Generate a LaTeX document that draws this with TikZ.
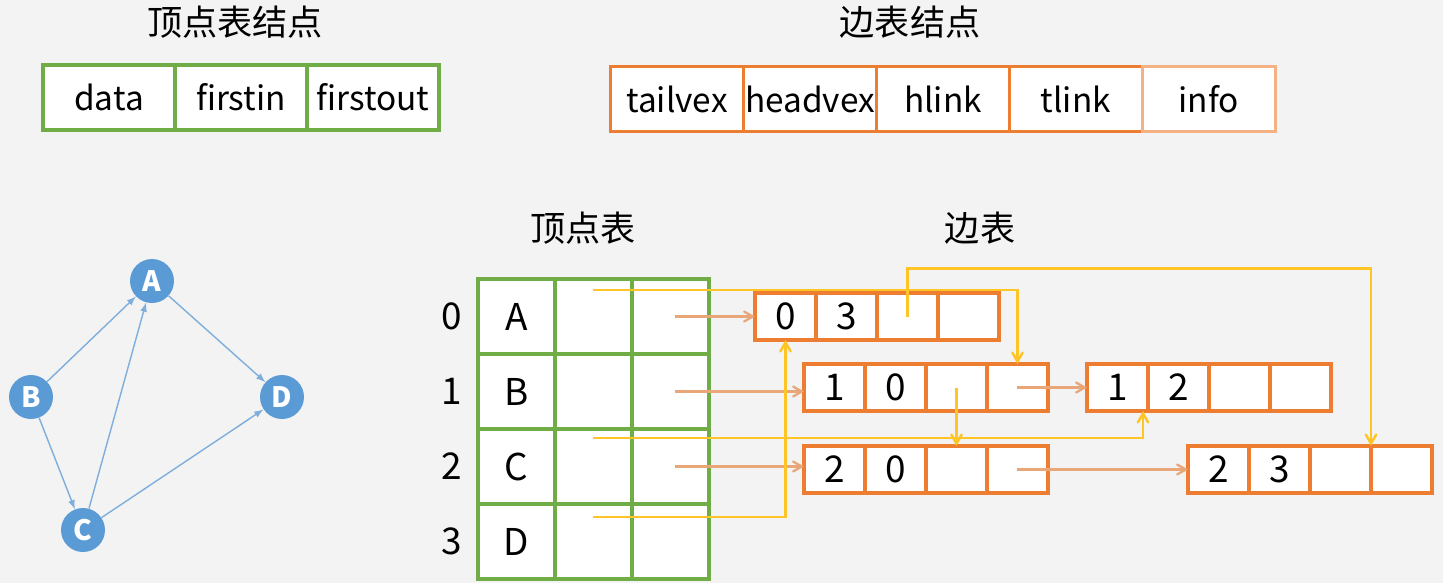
\documentclass[tikz,border=0pt]{standalone}
\usepackage{fontspec}
\setmainfont{Noto Sans CJK SC}
\usepackage{tikz}
\usetikzlibrary{arrows,positioning,calc}

\definecolor{vgreen}{HTML}{70AD47}
\definecolor{eorange}{HTML}{ED7D31}
\definecolor{einfo}{HTML}{F4B183}
\definecolor{olinkc}{HTML}{E9A679}
\definecolor{ylinkc}{HTML}{FFC425}
\definecolor{gblue}{HTML}{5B9BD5}
\definecolor{gedge}{HTML}{7EAEDB}
\definecolor{bg}{HTML}{F3F3F3}

\tikzset{
  field/.style={draw, fill=white, line width=1.8pt, inner sep=0pt, outer sep=0pt,
    minimum height=1.3cm, font=\fontsize{19}{21}\selectfont},
  vfield/.style={field, draw=vgreen, minimum width=2.64cm},
  efield/.style={field, draw=eorange, minimum width=2.66cm},
  vcell/.style={draw=vgreen, fill=white, line width=1.8pt, inner sep=0pt, outer sep=0pt,
    minimum width=1.54cm, minimum height=1.5cm, font=\fontsize{21}{24}\selectfont},
  ecell/.style={draw=eorange, fill=white, line width=1.8pt, inner sep=0pt, outer sep=0pt,
    minimum width=1.22cm, minimum height=0.94cm, font=\fontsize{21}{24}\selectfont},
  vert/.style={circle, fill=gblue, text=white, minimum size=0.88cm, inner sep=0pt,
    font=\bfseries\fontsize{16}{17}\selectfont},
  gedge/.style={-latex, color=gedge, line width=0.8pt},
  title/.style={font=\fontsize{20}{22}\selectfont},
  olink/.style={->, draw=olinkc, line width=1.3pt},
  ylink/.style={->, draw=ylinkc, line width=1.4pt},
}

\begin{document}
\begin{tikzpicture}[x=0.02cm,y=-0.02cm,>=angle 60]
    \useasboundingbox (0,0) rectangle (1443,583);
    \fill[bg] (0,0) rectangle (1443,583);

    % node layouts
    \node [title] (vtitle) at (235,22) {顶点表结点};
    \node [vfield] (data) at (109,97.5) {data};
    \node [vfield, right=0pt of data] (firstin) {firstin};
    \node [vfield, right=0pt of firstin] (firstout) {firstout};

    \node [title] (etitle) at (910,22) {边表结点};
    \node [efield] (tailvex) at (677,99) {tailvex};
    \node [efield, right=0pt of tailvex] (headvex) {headvex};
    \node [efield, right=0pt of headvex] (hlink) {hlink};
    \node [efield, right=0pt of hlink] (tlink) {tlink};
    \node [efield, draw=einfo, right=0pt of tlink] (info) {info};

    % the graph
    \node [vert] (A) at (152,281) {A};
    \node [vert] (B) at (31,397) {B};
    \node [vert] (C) at (83,530) {C};
    \node [vert] (D) at (282,397) {D};

    \path[gedge] (B) edge (A);
    \path[gedge] (C) edge (A);
    \path[gedge] (A) edge (D);
    \path[gedge] (B) edge (C);
    \path[gedge] (C) edge (D);

    % vertex table
    \node [title] (vtab) at (583,228) {顶点表};
    \foreach \v [count=\i from 0] in {A,B,C,D} {
        \node [vcell] (v\i-d) at (516.5,{316.5+75*\i}) {\v};
        \node [vcell, right=0pt of v\i-d] (v\i-in) {};
        \node [vcell, right=0pt of v\i-in] (v\i-out) {};
        \node [font=\fontsize{21}{24}\selectfont] (idx\i) at (452,{316.5+75*\i}) {\i};
    }

    % edge table
    \node [title] (etab) at (980,228) {边表};
    \foreach \n/\x/\y/\t/\h in {0/785.5/316.5/0/3, 1/834.5/387.5/1/0, 2/1117.5/387.5/1/2,
                                3/834.5/469.5/2/0, 4/1218.5/469.5/2/3} {
        \node [ecell] (e\n-1) at (\x,\y) {\t};
        \node [ecell, right=0pt of e\n-1] (e\n-2) {\h};
        \node [ecell, right=0pt of e\n-2] (e\n-3) {};
        \node [ecell, right=0pt of e\n-3] (e\n-4) {};
    }

    % out links
    \draw[olink] ([xshift=0.1cm]v0-out.center) -- (e0-1.west);
    \draw[olink] ([xshift=0.1cm]v1-out.center) -- (v1-out.center -| e1-1.west);
    \draw[olink] ([xshift=0.1cm]v2-out.center) -- (v2-out.center -| e3-1.west);
    \draw[olink] (e1-4.center) -- (e2-1.west);
    \draw[olink] (e3-4.center) -- (e4-1.west);

    % in links
    \draw[ylink] ([yshift=0.53cm]v0-in.center) -| (e1-4.north);
    \draw[ylink] ([yshift=0.57cm]v2-in.center) -| ([xshift=-0.1cm]e2-1.south east);
    \draw[ylink] ([yshift=0.49cm]v3-in.center) -| (e0-1.south);
    \draw[ylink] (e1-3.center) -- (e3-3.north);
    \draw[ylink] (e0-3.center) -- ++(0,-48) -| (e4-3.north east);

\end{tikzpicture}
\end{document}
